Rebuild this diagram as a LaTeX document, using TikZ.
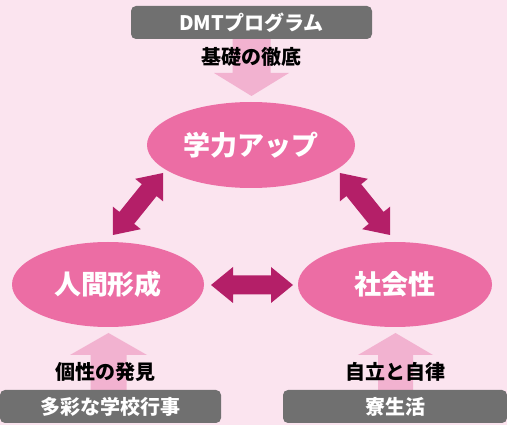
\documentclass[tikz,border=0pt]{standalone}
\usepackage{fontspec}
\setmainfont{Noto Sans CJK JP}
\usetikzlibrary{calc,shapes.geometric}
\definecolor{bgpink}{HTML}{FBE4EF}
\definecolor{ellpink}{HTML}{EC6DA4}
\definecolor{darkpink}{HTML}{B41F68}
\definecolor{lightpink}{HTML}{F2B2D0}
\definecolor{boxgrey}{HTML}{707070}
\newcommand{\dblarrow}[3]{%
  \coordinate (#3h1) at ($(#1)!22pt!(#2)$);
  \coordinate (#3h2) at ($(#2)!22pt!(#1)$);
  \fill[darkpink] (#1) -- ($(#3h1)!18pt!90:(#2)$) -- ($(#3h1)!9.5pt!90:(#2)$)
    -- ($(#3h2)!9.5pt!-90:(#1)$) -- ($(#3h2)!18pt!-90:(#1)$) -- (#2)
    -- ($(#3h2)!18pt!90:(#1)$) -- ($(#3h2)!9.5pt!90:(#1)$)
    -- ($(#3h1)!9.5pt!-90:(#2)$) -- ($(#3h1)!18pt!-90:(#2)$) -- cycle;}
\tikzset{
  greybox/.style={fill=boxgrey, rounded corners=5pt, text=white, font=\bfseries\fontsize{20}{22}\selectfont, minimum height=33pt, inner sep=0pt},
  bigell/.style={ellipse, fill=ellpink, text=white, inner sep=0pt, font=\bfseries\fontsize{27}{30}\selectfont},
  lbl/.style={text=black, font=\bfseries\fontsize{20}{22}\selectfont, inner sep=0pt},
  lightarrow/.style={fill=lightpink}
}
\begin{document}
\begin{tikzpicture}[x=1pt,y=-1pt]
\useasboundingbox (0,0) rectangle (507,425);
\fill[bgpink] (0,0) rectangle (507,425);
% light arrows (bases)
\coordinate (ta) at (251.5,39);
\coordinate (la) at (108.5,390);
\coordinate (ra) at (395.5,390);
\fill[lightarrow] ($(ta)+(-19,0)$) -- ++(0,34) -- ++(-18.5,0) -- ++(37.5,23) -- ++(37.5,-23) -- ++(-18.5,0) -- ++(0,-34) -- cycle;
\fill[lightarrow] ($(la)+(-18,0)$) -- ++(0,-35) -- ++(-20.5,0) -- ++(38.5,-22) -- ++(38.5,22) -- ++(-20.5,0) -- ++(0,35) -- cycle;
\fill[lightarrow] ($(ra)+(-17.5,0)$) -- ++(0,-35) -- ++(-20,0) -- ++(37.5,-22) -- ++(37.5,22) -- ++(-20,0) -- ++(0,35) -- cycle;
% grey boxes
\node[greybox, minimum width=241pt] (dmt) at (251.5,22.5) {DMTプログラム};
\node[greybox, minimum width=221pt] (gyoji) at (110.5,406.5) {多彩な学校行事};
\node[greybox, minimum width=224pt] (ryo) at (395,406.5) {寮生活};
% labels
\node[lbl] (kiso) at (251.5,57) {基礎の徹底};
\node[lbl] (kosei) at (106,372) {個性の発見};
\node[lbl] (jiritsu) at (395,372) {自立と自律};
% ellipses
\node[bigell, minimum width=208pt, minimum height=86pt] (gaku) at (251,145) {学力アップ};
\node[bigell, minimum width=192pt, minimum height=85pt] (ningen) at (108,284.5) {人間形成};
\node[bigell, minimum width=194pt, minimum height=85pt] (shakai) at (395,284.5) {社会性};
% double arrows
\coordinate (a1) at (113,235);
\coordinate (a2) at (163,173);
\coordinate (b1) at (340,173);
\coordinate (b2) at (390,235);
\coordinate (c1) at (211,285);
\coordinate (c2) at (293,285);
\dblarrow{a1}{a2}{A}
\dblarrow{b1}{b2}{B}
\dblarrow{c1}{c2}{C}
\end{tikzpicture}
\end{document}
